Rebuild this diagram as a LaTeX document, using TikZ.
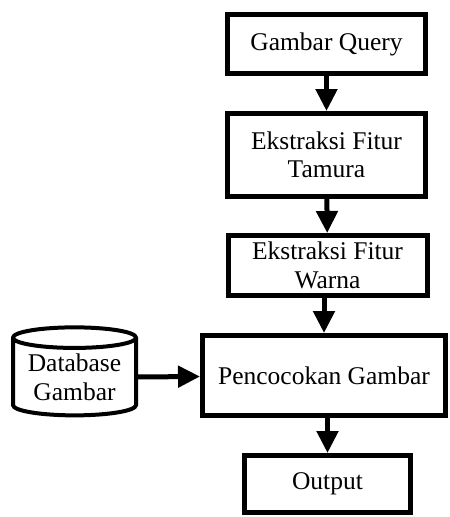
\documentclass[tikz,border=0pt]{standalone}
\usepackage{fontspec}
\setmainfont{Liberation Serif}
\usetikzlibrary{shapes.geometric,arrows.meta}
\begin{document}
\begin{tikzpicture}[x=1pt, y=-1pt,
        font=\fontsize{25.5}{28.5}\selectfont,
        blok/.style={draw, line width=5pt, align=center, inner sep=0pt},
        panah/.style={line width=5pt, -{Triangle[width=21pt, length=22pt]}}]
                \useasboundingbox (0,0) rectangle (450,517);

                \node[blok, minimum width=198pt, minimum height=59pt] (query) at (326.5, 44) {Gambar Query};
                \node[blok, minimum width=198pt, minimum height=83pt] (tamura) at (326.5, 155) {Ekstraksi Fitur\\Tamura};
                \node[blok, minimum width=199pt, minimum height=60pt] (warna) at (327.5, 265.5) {Ekstraksi Fitur\\Warna};
                \node[blok, minimum width=243pt, minimum height=80pt] (cocok) at (324, 375.5) {Pencocokan Gambar};
                \node[blok, minimum width=166pt, minimum height=57pt] (output) at (327.5, 484) {Output};
                \node[draw, line width=4pt, shape=cylinder, shape border rotate=90, aspect=0.22, align=center,
                      minimum width=123pt, minimum height=88pt, inner sep=0pt] (database) at (74.5, 377.5) {Database\\Gambar};

                % alur utama
                \draw[panah] (query) -- (tamura);
                \draw[panah] (tamura) -- (warna);
                \draw[panah] (warna.south -| cocok.north) -- (cocok);
                \draw[panah] (cocok.south -| output.north) -- (output);

                % database -> pencocokan
                \draw[panah] (database) -- (cocok);

\end{tikzpicture}
\end{document}
